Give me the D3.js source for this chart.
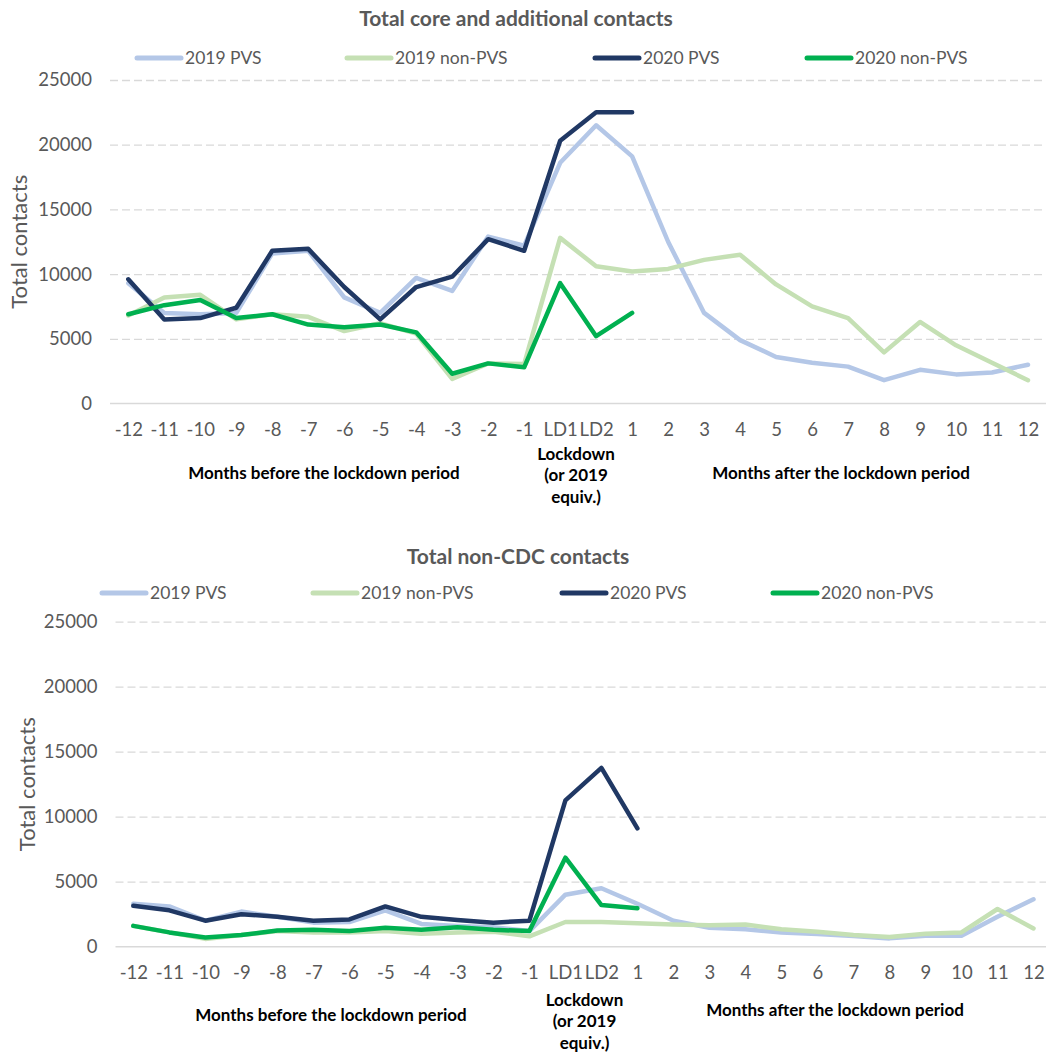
<!DOCTYPE html>
<html>
<head>
<meta charset="utf-8">
<script src="https://cdn.jsdelivr.net/npm/d3@7"></script>
<style>
  html, body { margin: 0; padding: 0; background: #fff; }
  svg { display: block; font-family: Lato, "Open Sans", sans-serif; }
</style>
</head>
<body>
<svg id="chart" width="1046" height="1052"></svg>
<script>
// Month categories relative to the lockdown period
const categories = ["-12","-11","-10","-9","-8","-7","-6","-5","-4","-3","-2","-1",
  "LD1","LD2","1","2","3","4","5","6","7","8","9","10","11","12"];

const seriesNames = ["2019 PVS", "2019 non-PVS", "2020 PVS", "2020 non-PVS"];
const seriesColors = ["#B4C7E7", "#C5E0B4", "#203864", "#00B050"];

const yTicks = [0, 5000, 10000, 15000, 20000, 25000];

// Total core and additional contacts
const core2019PVS = [9300,7000,6900,7000,11600,11800,8200,7000,9700,8700,12900,12200,
  18600,21500,19100,12500,7000,4900,3600,3150,2850,1800,2600,2250,2400,3000];
const core2019NonPVS = [6800,8200,8400,6500,6900,6700,5600,6200,5400,1900,3100,3050,
  12800,10600,10200,10400,11100,11500,9200,7500,6600,3950,6300,4500,3150,1800];
const core2020PVS = [9600,6500,6600,7400,11800,11950,9000,6500,9000,9800,12700,11800,
  20300,22500,22500,null,null,null,null,null,null,null,null,null,null,null];
const core2020NonPVS = [6900,7600,8000,6600,6900,6100,5900,6100,5500,2300,3100,2800,
  9300,5200,7000,null,null,null,null,null,null,null,null,null,null,null];

// Total non-CDC contacts
const nonCdc2019PVS = [3300,3100,2000,2700,2300,1850,1900,2800,1750,1600,1500,1200,
  4000,4500,3300,2000,1460,1340,1100,980,820,640,850,850,2300,3650];
const nonCdc2019NonPVS = [1600,1100,600,900,1200,1100,1100,1200,1000,1100,1150,800,
  1900,1900,1800,1700,1650,1700,1350,1150,900,750,1000,1100,2900,1400];
const nonCdc2020PVS = [3150,2800,2000,2500,2300,2000,2100,3100,2300,2050,1850,2000,
  11250,13750,9100,null,null,null,null,null,null,null,null,null,null,null];
const nonCdc2020NonPVS = [1600,1100,700,900,1250,1300,1200,1450,1300,1500,1300,1200,
  6850,3200,2950,null,null,null,null,null,null,null,null,null,null,null];

const yTitle = "Total contacts";
const beforeLabel = "Months before the lockdown period";
const afterLabel = "Months after the lockdown period";
const lockdownLabel = ["Lockdown", "(or 2019", "equiv.)"];

const svg = d3.select("#chart");

function drawPanel(p) {
  const g = svg.append("g");
  const x = d3.scalePoint().domain(categories).range([p.x0, p.x1]);
  const y = d3.scaleLinear().domain([0, 25000]).range([p.yBottom, p.yTop]);

  // title
  g.append("text")
    .attr("x", p.titleX).attr("y", p.titleY)
    .attr("dy", "0.35em")
    .attr("text-anchor", "middle")
    .attr("font-size", 21).attr("font-weight", 700)
    .attr("fill", "#595959")
    .text(p.title);

  // legend
  const leg = g.append("g");
  seriesNames.forEach((name, i) => {
    const lx = p.legendX[i];
    leg.append("line")
      .attr("x1", lx).attr("x2", lx + 44)
      .attr("y1", p.legendY).attr("y2", p.legendY)
      .attr("stroke", seriesColors[i]).attr("stroke-width", 5)
      .attr("stroke-linecap", "round");
    leg.append("text")
      .attr("x", lx + 48).attr("y", p.legendY)
      .attr("dy", "0.35em")
      .attr("font-size", 17.5).attr("fill", "#595959")
      .text(name);
  });

  // gridlines
  const grid = g.append("g")
    .attr("transform", `translate(${p.gridLeft},0)`)
    .call(d3.axisLeft(y).tickValues(yTicks.filter(v => v > 0))
      .tickSize(-(p.gridRight - p.gridLeft)).tickFormat(""));
  grid.select(".domain").remove();
  grid.selectAll(".tick line")
    .attr("stroke", "#D9D9D9").attr("stroke-width", 1.3)
    .attr("stroke-dasharray", "8,4");

  // baseline
  g.append("line")
    .attr("x1", p.gridLeft).attr("x2", p.gridRight)
    .attr("y1", y(0)).attr("y2", y(0))
    .attr("stroke", "#D9D9D9").attr("stroke-width", 1.5);

  // y axis labels
  const ya = g.append("g")
    .attr("transform", `translate(${p.gridLeft - 18},0)`)
    .call(d3.axisLeft(y).tickValues(yTicks).tickSize(0).tickPadding(0)
      .tickFormat(d3.format("d")));
  ya.select(".domain").remove();
  ya.selectAll("text")
    .attr("font-size", 18.5).attr("fill", "#595959")
    .attr("font-family", "Lato, sans-serif");

  // x axis labels
  const xa = g.append("g")
    .attr("transform", `translate(0,${p.xLabelY})`)
    .call(d3.axisBottom(x).tickSize(0).tickPadding(0));
  xa.select(".domain").remove();
  xa.selectAll("text")
    .attr("dy", "0.35em")
    .attr("font-size", 18.5).attr("fill", "#595959")
    .attr("font-family", "Lato, sans-serif");

  // y axis title
  g.append("text")
    .attr("transform", `translate(${p.yTitleX},${(p.yTop + p.yBottom) / 2}) rotate(-90)`)
    .attr("text-anchor", "middle").attr("dy", "0.35em")
    .attr("font-size", 22).attr("fill", "#595959")
    .text(yTitle);

  // group annotations under the axis
  const ann = g.append("g")
    .attr("font-size", 17).attr("font-weight", 700).attr("fill", "#000")
    .attr("text-anchor", "middle");
  ann.append("text").attr("x", p.beforeX).attr("y", p.beforeY)
    .attr("dy", "0.35em").text(beforeLabel);
  ann.append("text").attr("x", p.afterX).attr("y", p.afterY)
    .attr("dy", "0.35em").text(afterLabel);
  lockdownLabel.forEach((t, i) => {
    ann.append("text").attr("x", p.lockX).attr("y", p.lockY + i * p.lockStep)
      .attr("dy", "0.35em").text(t);
  });

  // series lines
  const line = d3.line()
    .defined(d => d.v !== null)
    .x(d => x(d.c))
    .y(d => y(d.v));

  p.series.forEach((vals, i) => {
    const pts = categories.map((c, j) => ({ c, v: vals[j] }));
    g.append("path")
      .datum(pts)
      .attr("fill", "none")
      .attr("stroke", seriesColors[i])
      .attr("stroke-width", 4.5)
      .attr("stroke-linejoin", "round")
      .attr("stroke-linecap", "round")
      .attr("d", line);
  });
}

drawPanel({
  title: "Total core and additional contacts",
  titleX: 516, titleY: 19,
  legendX: [137, 347, 595, 807], legendY: 58,
  x0: 128.3, x1: 1028, gridLeft: 110, gridRight: 1046,
  yTop: 80, yBottom: 403.5,
  xLabelY: 430, yTitleX: 19,
  beforeX: 324, beforeY: 473, afterX: 841, afterY: 473,
  lockX: 576, lockY: 454, lockStep: 21.5,
  series: [core2019PVS, core2019NonPVS, core2020PVS, core2020NonPVS]
});

drawPanel({
  title: "Total non-CDC contacts",
  titleX: 518, titleY: 557,
  legendX: [102, 313, 562, 773], legendY: 593,
  x0: 133.3, x1: 1033.5, gridLeft: 115.5, gridRight: 1046,
  yTop: 621.7, yBottom: 946.7,
  xLabelY: 973, yTitleX: 27,
  beforeX: 331, beforeY: 1015, afterX: 835, afterY: 1010,
  lockX: 584.5, lockY: 1000, lockStep: 21.5,
  series: [nonCdc2019PVS, nonCdc2019NonPVS, nonCdc2020PVS, nonCdc2020NonPVS]
});
</script>
</body>
</html>
